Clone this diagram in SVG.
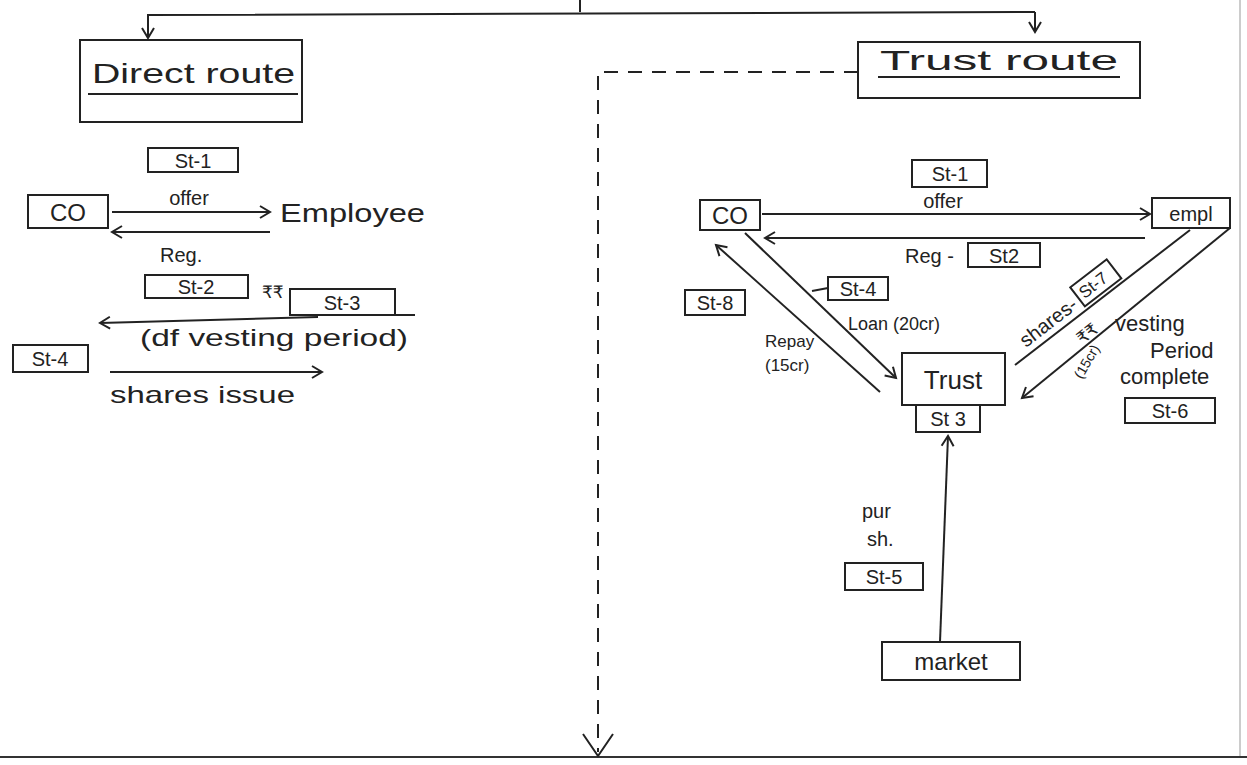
<svg xmlns="http://www.w3.org/2000/svg" width="1247" height="765" viewBox="0 0 1247 765">
<style>
.box{fill:none;stroke:#222;stroke-width:2}
.ln{fill:none;stroke:#222;stroke-width:2}
text{font-family:"Liberation Sans","DejaVu Sans",sans-serif;fill:#222}
.t{font-size:20px}
.c{text-anchor:middle}
.big{font-size:24px}
.sm{font-size:17px}
</style>
<defs>
<marker id="ah" markerUnits="userSpaceOnUse" markerWidth="16" markerHeight="16" refX="12" refY="8" orient="auto" viewBox="0 0 16 16">
<path d="M2,2 L12,8 L2,14" fill="none" stroke="#222" stroke-width="2"/>
</marker>
</defs>
<rect width="1247" height="765" fill="#fff"/>
<g id="page-edges">
<line x1="1240" y1="0" x2="1240" y2="757" stroke="#bbb" stroke-width="1.5"/>
<line x1="0" y1="757" x2="1247" y2="757" stroke="#333" stroke-width="2"/>
</g>
<g id="connectors">
<line class="ln" x1="580" y1="0" x2="580" y2="12"/>
<path class="ln" d="M1035,12 V32" marker-end="url(#ah)"/>
<path class="ln" d="M1035,12 L148,15 V38" marker-end="url(#ah)"/>
<path class="ln" d="M858,72 H598 V752" stroke-dasharray="14 10"/>
<path class="ln" d="M583,734 L598,756 L613,734"/>
<line class="ln" x1="112" y1="212" x2="270" y2="212" marker-end="url(#ah)"/>
<line class="ln" x1="270" y1="232" x2="112" y2="232" marker-end="url(#ah)"/>
<line class="ln" x1="318" y1="317" x2="100" y2="323" marker-end="url(#ah)"/>
<line class="ln" x1="110" y1="372" x2="322" y2="372" marker-end="url(#ah)"/>
<line class="ln" x1="762" y1="214" x2="1150" y2="214" marker-end="url(#ah)"/>
<line class="ln" x1="1145" y1="238" x2="765" y2="238" marker-end="url(#ah)"/>
<line class="ln" x1="745" y1="233" x2="896" y2="378" marker-end="url(#ah)"/>
<line class="ln" x1="880" y1="392" x2="716" y2="245" marker-end="url(#ah)"/>
<line class="ln" x1="940" y1="642" x2="948" y2="436" marker-end="url(#ah)"/>
<line class="ln" x1="1015" y1="365" x2="1190" y2="230"/>
<line class="ln" x1="1230" y1="228" x2="1022" y2="398" marker-end="url(#ah)"/>
<line class="ln" x1="812" y1="291" x2="828" y2="288"/>
</g>
<g id="direct-route">
<rect class="box" x="80" y="40" width="222" height="82"/>
<text x="92" y="83" font-size="28" textLength="203" lengthAdjust="spacingAndGlyphs">Direct route</text>
<line class="ln" x1="88" y1="94" x2="298" y2="94"/>
</g>
<g id="trust-route">
<rect class="box" x="858" y="42" width="282" height="56"/>
<text x="880" y="70" font-size="28" textLength="238" lengthAdjust="spacingAndGlyphs">Trust route</text>
<line class="ln" x1="878" y1="77" x2="1120" y2="77"/>
</g>
<g id="left-st1">
<rect class="box" x="148" y="148" width="90" height="24"/>
<text class="t c" x="193" y="168">St-1</text>
</g>
<g id="left-co">
<rect class="box" x="28" y="195" width="80" height="33"/>
<text class="big c" x="68" y="221">CO</text>
</g>
<text class="t c" x="189" y="205">offer</text>
<g id="left-employee">
<text x="280" y="222" font-size="26" textLength="145" lengthAdjust="spacingAndGlyphs">Employee</text>
</g>
<text class="t" x="160" y="262">Reg.</text>
<g id="left-st2">
<rect class="box" x="145" y="275" width="103" height="23"/>
<text class="t c" x="196" y="294">St-2</text>
</g>
<text class="sm" x="262" y="298">₹₹</text>
<g id="left-st3">
<rect class="box" x="290" y="289" width="105" height="26"/>
<text class="t c" x="342" y="310">St-3</text>
<line class="ln" x1="395" y1="315" x2="415" y2="315"/>
</g>
<text x="140" y="346" font-size="24" textLength="268" lengthAdjust="spacingAndGlyphs">(df vesting period)</text>
<g id="left-st4">
<rect class="box" x="13" y="345" width="75" height="27"/>
<text class="t c" x="50" y="366">St-4</text>
</g>
<text x="110" y="403" font-size="24" textLength="185" lengthAdjust="spacingAndGlyphs">shares issue</text>
<g id="right-st1">
<rect class="box" x="912" y="160" width="75" height="27"/>
<text class="t c" x="950" y="181">St-1</text>
</g>
<text class="t c" x="943" y="208">offer</text>
<g id="right-co">
<rect class="box" x="700" y="200" width="60" height="30"/>
<text class="big c" x="730" y="224">CO</text>
</g>
<g id="right-empl">
<rect class="box" x="1152" y="198" width="78" height="30"/>
<text class="t c" x="1191" y="221">empl</text>
</g>
<text class="t" x="905" y="263">Reg -</text>
<g id="right-st2">
<rect class="box" x="968" y="243" width="72" height="24"/>
<text class="t c" x="1004" y="263">St2</text>
</g>
<g id="right-st4">
<rect class="box" x="828" y="277" width="60" height="23"/>
<text class="t c" x="858" y="296">St-4</text>
</g>
<text x="848" y="330" font-size="18">Loan (20cr)</text>
<g id="right-st8">
<rect class="box" x="685" y="290" width="60" height="25"/>
<text class="t c" x="715" y="310">St-8</text>
</g>
<text class="sm" x="765" y="347">Repay</text>
<text class="sm" x="765" y="371">(15cr)</text>
<g id="trust">
<rect class="box" x="902" y="353" width="103" height="52"/>
<text x="953" y="389" font-size="26" text-anchor="middle">Trust</text>
</g>
<g id="trust-st3">
<rect class="box" x="916" y="405" width="64" height="27"/>
<text class="t c" x="948" y="426">St 3</text>
</g>
<text class="t" x="862" y="518">pur</text>
<text class="t" x="867" y="546">sh.</text>
<g id="right-st5">
<rect class="box" x="845" y="563" width="78" height="27"/>
<text class="t c" x="884" y="584">St-5</text>
</g>
<g id="market">
<rect class="box" x="882" y="642" width="138" height="38"/>
<text class="big c" x="951" y="670">market</text>
</g>
<g id="shares-label" transform="translate(1026,348) rotate(-37.6)">
<text class="t" x="0" y="0">shares-</text>
<rect class="box" x="72" y="-21" width="46" height="24"/>
<text class="sm" x="76" y="-3">St-7</text>
</g>
<g id="pay-label">
<text class="sm c" transform="translate(1091,338) rotate(-39)">₹₹</text>
<text class="c" font-size="14" transform="translate(1091,364) rotate(-60)">(15cr)</text>
</g>
<text x="1115" y="331" font-size="22">vesting</text>
<text x="1150" y="358" font-size="22">Period</text>
<text x="1120" y="384" font-size="22">complete</text>
<g id="right-st6">
<rect class="box" x="1125" y="398" width="90" height="25"/>
<text class="t c" x="1170" y="418">St-6</text>
</g>
</svg>
